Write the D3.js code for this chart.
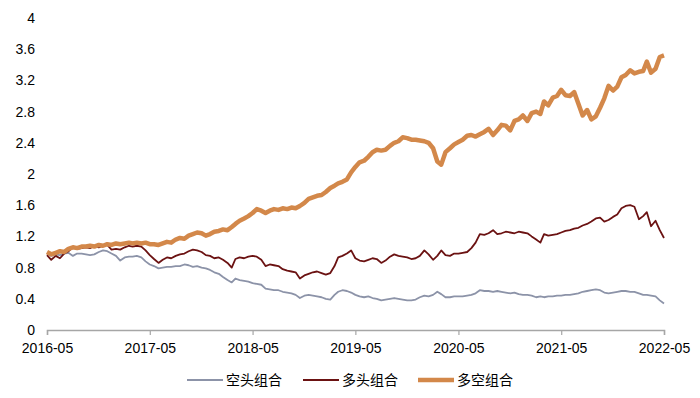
<!DOCTYPE html>
<html>
<head>
<meta charset="utf-8">
<script src="https://cdn.jsdelivr.net/npm/d3@7"></script>
<style>
  html, body { margin: 0; padding: 0; background: #fff; }
  svg { display: block; font-family: "Liberation Sans", Arial, sans-serif; }
</style>
</head>
<body>
<div id="chart"></div>
<script>
// series names, in legend order
const seriesNames = ["空头组合", "多头组合", "多空组合"];
const seriesColors = ["#8c93a8", "#6b1212", "#d3884a"];

// x ticks and y ticks
const xTickLabels = ["2016-05", "2017-05", "2018-05", "2019-05", "2020-05", "2021-05", "2022-05"];
const yTicks = [0, 0.4, 0.8, 1.2, 1.6, 2, 2.4, 2.8, 3.2, 3.6, 4];

// semi-monthly observations, 2016-05 .. 2022-05 (1st and 16th of each month)
const shortVals = [
  0.98, 0.95, 0.97, 0.96, 0.98, 0.99, 0.95, 0.98, 0.98, 0.97, 0.96, 0.97, 1.00, 1.02, 1.01, 0.98,
  0.95, 0.89, 0.93, 0.94, 0.94, 0.95, 0.93, 0.88, 0.84, 0.82, 0.79, 0.80, 0.81, 0.81, 0.82, 0.82,
  0.84, 0.83, 0.81, 0.82, 0.80, 0.79, 0.77, 0.74, 0.72, 0.68, 0.64, 0.61, 0.66, 0.64, 0.63, 0.62,
  0.60, 0.59, 0.58, 0.53, 0.52, 0.51, 0.51, 0.49, 0.48, 0.47, 0.45, 0.41, 0.44, 0.45, 0.44, 0.43,
  0.42, 0.40, 0.39, 0.45, 0.49, 0.51, 0.50, 0.48, 0.45, 0.43, 0.42, 0.43, 0.41, 0.40, 0.38, 0.39,
  0.40, 0.41, 0.40, 0.39, 0.38, 0.38, 0.39, 0.42, 0.44, 0.43, 0.45, 0.49, 0.46, 0.42, 0.42, 0.43,
  0.43, 0.43, 0.44, 0.45, 0.47, 0.51, 0.50, 0.50, 0.49, 0.50, 0.49, 0.48, 0.47, 0.48, 0.46, 0.45,
  0.45, 0.44, 0.42, 0.43, 0.42, 0.43, 0.43, 0.44, 0.44, 0.45, 0.45, 0.46, 0.47, 0.49, 0.50, 0.51,
  0.52, 0.51, 0.48, 0.47, 0.48, 0.49, 0.50, 0.50, 0.49, 0.49, 0.47, 0.45, 0.45, 0.44, 0.43, 0.38,
  0.34
];
const longVals = [
  0.96, 0.90, 0.95, 0.92, 0.98, 1.01, 1.06, 1.04, 1.05, 1.06, 1.05, 1.08, 1.06, 1.08, 1.09, 1.03,
  1.04, 1.03, 1.06, 1.08, 1.07, 1.08, 1.07, 1.02, 0.96, 0.91, 0.86, 0.90, 0.93, 0.92, 0.95, 0.97,
  0.98, 1.01, 1.03, 1.02, 1.00, 0.96, 0.95, 0.92, 0.93, 0.90, 0.86, 0.80, 0.91, 0.93, 0.92, 0.94,
  0.95, 0.94, 0.90, 0.82, 0.84, 0.83, 0.82, 0.78, 0.76, 0.75, 0.74, 0.66, 0.70, 0.72, 0.74, 0.75,
  0.73, 0.71, 0.73, 0.82, 0.93, 0.95, 0.98, 1.02, 0.92, 0.89, 0.88, 0.90, 0.92, 0.91, 0.86, 0.89,
  0.94, 0.97, 0.95, 0.94, 0.93, 0.91, 0.92, 0.95, 1.02, 0.97, 0.90, 0.95, 1.02, 0.96, 0.95, 0.98,
  0.98, 0.99, 1.00, 1.05, 1.12, 1.23, 1.22, 1.24, 1.28, 1.23, 1.24, 1.26, 1.25, 1.24, 1.26, 1.25,
  1.24, 1.20, 1.16, 1.12, 1.23, 1.21, 1.22, 1.23, 1.25, 1.27, 1.28, 1.30, 1.31, 1.34, 1.36, 1.39,
  1.43, 1.44, 1.39, 1.41, 1.45, 1.48, 1.56, 1.59, 1.60, 1.58, 1.42, 1.46, 1.51, 1.33, 1.40, 1.28,
  1.18
];
const longShortVals = [
  1.00, 0.97, 0.99, 1.01, 1.00, 1.04, 1.06, 1.05, 1.07, 1.07, 1.08, 1.07, 1.09, 1.08, 1.10, 1.09,
  1.11, 1.10, 1.11, 1.12, 1.11, 1.12, 1.11, 1.12, 1.10, 1.10, 1.09, 1.11, 1.13, 1.12, 1.16, 1.18,
  1.17, 1.21, 1.23, 1.25, 1.24, 1.21, 1.23, 1.26, 1.27, 1.29, 1.28, 1.32, 1.36, 1.40, 1.43, 1.46,
  1.50, 1.55, 1.53, 1.50, 1.53, 1.55, 1.54, 1.56, 1.55, 1.57, 1.56, 1.59, 1.63, 1.68, 1.70, 1.72,
  1.73, 1.77, 1.82, 1.85, 1.88, 1.90, 1.93, 2.02, 2.09, 2.15, 2.17, 2.22, 2.28, 2.31, 2.30, 2.31,
  2.36, 2.40, 2.42, 2.47, 2.46, 2.44, 2.44, 2.43, 2.42, 2.40, 2.33, 2.16, 2.12, 2.28, 2.33, 2.38,
  2.41, 2.44, 2.49, 2.50, 2.48, 2.51, 2.54, 2.58, 2.50, 2.56, 2.63, 2.62, 2.56, 2.68, 2.70, 2.75,
  2.68, 2.78, 2.80, 2.77, 2.93, 2.88, 2.98, 3.00, 3.08, 3.01, 3.00, 3.05, 2.90, 2.75, 2.82, 2.70,
  2.74, 2.85, 2.97, 3.13, 3.07, 3.12, 3.24, 3.27, 3.33, 3.29, 3.31, 3.32, 3.44, 3.30, 3.35, 3.50,
  3.52
];

const dates = shortVals.map((_, i) =>
  new Date(2016, 4 + Math.floor(i / 2), i % 2 === 0 ? 1 : 16));

const width = 700, height = 398;
const margin = { left: 47, right: 36, top: 18, bottom: 68 };

const svg = d3.select("#chart")
  .append("svg")
  .attr("width", width)
  .attr("height", height);

const x = d3.scaleTime()
  .domain([new Date(2016, 4, 1), new Date(2022, 4, 1)])
  .range([margin.left, width - margin.right]);

const y = d3.scaleLinear()
  .domain([0, 4])
  .range([height - margin.bottom, margin.top]);

// x axis
const xAxis = svg.append("g")
  .attr("transform", `translate(0, ${y(0)})`)
  .call(d3.axisBottom(x)
    .tickValues(xTickLabels.map(d => d3.timeParse("%Y-%m")(d)))
    .tickFormat(d3.timeFormat("%Y-%m"))
    .tickSizeOuter(0)
    .tickSize(5));
xAxis.select(".domain").attr("stroke", "#a6a6a6").attr("stroke-width", 1.5);
xAxis.selectAll(".tick line").attr("stroke", "#a6a6a6").attr("stroke-width", 1.2);
xAxis.selectAll(".tick text")
  .attr("dy", "1.05em")
  .style("font-size", "14px")
  .style("fill", "#000");

// y axis, labels only
svg.append("g")
  .selectAll("text")
  .data(yTicks)
  .join("text")
  .attr("x", 35)
  .attr("y", d => y(d))
  .attr("dy", "0.35em")
  .attr("text-anchor", "end")
  .style("font-size", "14px")
  .style("fill", "#000")
  .text(d => d);

// lines
const seriesVals = [shortVals, longVals, longShortVals];
const lineWidths = [1.8, 1.8, 4.5];
const line = d3.line()
  .x((d, i) => x(dates[i]))
  .y(d => y(d));

seriesVals.forEach((vals, k) => {
  svg.append("path")
    .datum(vals)
    .attr("fill", "none")
    .attr("stroke", seriesColors[k])
    .attr("stroke-width", lineWidths[k])
    .attr("stroke-linejoin", "round")
    .attr("d", line);
});

// legend
const legendX = [187, 303, 418];
const legend = svg.append("g").attr("transform", "translate(0, 380)");
seriesNames.forEach((name, k) => {
  legend.append("line")
    .attr("x1", legendX[k])
    .attr("x2", legendX[k] + 36)
    .attr("stroke", seriesColors[k])
    .attr("stroke-width", k === 2 ? 4.5 : 2);
  legend.append("text")
    .attr("x", legendX[k] + 39)
    .attr("dy", "0.35em")
    .style("font-size", "14px")
    .style("font-family", "'Noto Sans CJK SC', sans-serif")
    .text(name);
});
</script>
</body>
</html>
